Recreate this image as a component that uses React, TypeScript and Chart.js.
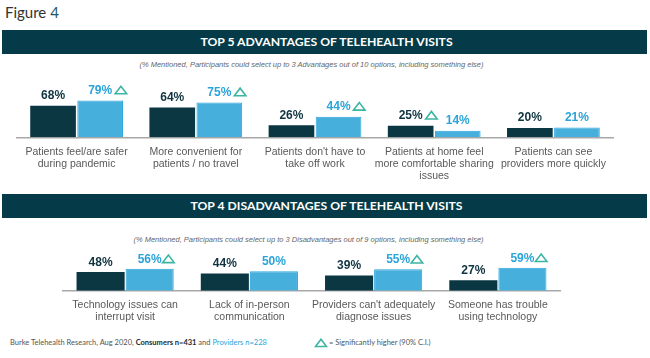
import React, { useEffect, useRef } from "react";
import { Chart, registerables } from "chart.js";

Chart.register(...registerables);

// ---------- DATA ----------
const advCategories: string[][] = [
  ["Patients feel/are safer", "during pandemic"],
  ["More convenient for", "patients / no travel"],
  ["Patients don't have to", "take off work"],
  ["Patients at home feel", "more comfortable sharing", "issues"],
  ["Patients can see", "providers more quickly"],
];
const advConsumers = [68, 64, 26, 25, 20];
const advProviders = [79, 75, 44, 14, 21];
const advConsumersSig = [false, false, false, true, false];
const advProvidersSig = [true, true, true, false, false];

const disCategories: string[][] = [
  ["Technology issues can", "interrupt visit"],
  ["Lack of in-person", "communication"],
  ["Providers can't adequately", "diagnose issues"],
  ["Someone has trouble", "using technology"],
];
const disConsumers = [48, 44, 39, 27];
const disProviders = [56, 50, 55, 59];
const disConsumersSig = [false, false, false, false];
const disProvidersSig = [true, false, true, true];

const seriesNames = ["Consumers", "Providers"];

// ---------- STYLE ----------
const DARK = "#0b3743";
const LIGHT = "#47afdb";
const LIGHT_BORDER = "#2aa6de";
const DARK_TEXT = "#0f3340";
const LIGHT_TEXT = "#2ba4d9";
const TRI = "#3cb5a3";
const HEADER_BG = "#053b48";
const SANS = "'Liberation Sans', Arial, sans-serif";
const CAL = "Lato, 'Open Sans', sans-serif";

function drawTriangle(ctx: CanvasRenderingContext2D, x: number, y: number, w: number, h: number) {
  ctx.beginPath();
  ctx.moveTo(x, y + h / 2);
  ctx.lineTo(x + w / 2, y - h / 2);
  ctx.lineTo(x + w, y + h / 2);
  ctx.closePath();
  ctx.stroke();
}

function makeLabelPlugin(sigs: boolean[][], gap: number, offset: number) {
  return {
    id: "barLabels",
    afterDatasetsDraw(chart: any) {
      const ctx: CanvasRenderingContext2D = chart.ctx;
      chart.data.datasets.forEach((ds: any, di: number) => {
        const meta = chart.getDatasetMeta(di);
        meta.data.forEach((bar: any, i: number) => {
          const text = ds.data[i] + "%";
          ctx.save();
          ctx.font = "bold 12px " + SANS;
          ctx.fillStyle = di === 0 ? DARK_TEXT : LIGHT_TEXT;
          ctx.textAlign = "center";
          ctx.textBaseline = "middle";
          const y = bar.y - offset;
          ctx.fillText(text, bar.x, y);
          if (sigs[di][i]) {
            const w = ctx.measureText(text).width;
            ctx.strokeStyle = TRI;
            ctx.lineWidth = 1.6;
            drawTriangle(ctx, bar.x + w / 2 + gap, y - 0.5, 11.5, 7.5);
          }
          ctx.restore();
        });
      });
    },
  };
}

type BarProps = {
  categories: string[][];
  a: number[];
  b: number[];
  sigs: boolean[][];
  width: number;
  height: number;
  padTop: number;
  padLeft: number;
  padRight: number;
  axisHeight: number;
  catPct: number;
  barPct: number;
  triGap: number;
  labelOffset: number;
  tickPad: number;
};

function BarChart(p: BarProps) {
  const ref = useRef<HTMLCanvasElement>(null);
  useEffect(() => {
    if (!ref.current) return;
    const chart = new Chart(ref.current, {
      type: "bar",
      data: {
        labels: p.categories,
        datasets: [
          {
            label: seriesNames[0],
            data: p.a,
            backgroundColor: DARK,
            borderWidth: 0,
            categoryPercentage: p.catPct,
            barPercentage: p.barPct,
          },
          {
            label: seriesNames[1],
            data: p.b,
            backgroundColor: LIGHT,
            borderColor: LIGHT_BORDER,
            borderWidth: 1,
            categoryPercentage: p.catPct,
            barPercentage: p.barPct,
          },
        ],
      },
      options: {
        animation: false,
        responsive: false,
        layout: { padding: { top: p.padTop, left: p.padLeft, right: p.padRight, bottom: 0 } },
        plugins: { legend: { display: false }, tooltip: { enabled: false } },
        scales: {
          y: { display: false, min: 0, max: 100 },
          x: {
            grid: { display: false, drawTicks: false },
            border: { display: true, color: "#a8a8a8", width: 1.5 },
            ticks: {
              color: "#595959",
              font: { family: SANS, size: 10.5, lineHeight: 1.15 },
              padding: p.tickPad,
              maxRotation: 0,
              autoSkip: false,
            },
            afterFit: (scale: any) => {
              scale.height = p.axisHeight;
            },
          },
        },
      },
      plugins: [makeLabelPlugin(p.sigs, p.triGap, p.labelOffset)],
    } as any);
    return () => chart.destroy();
  }, []);
  return <canvas ref={ref} width={p.width} height={p.height} style={{ display: "block" }} />;
}

function Header({ top, text }: { top: number; text: string }) {
  return (
    <div
      style={{
        position: "absolute",
        left: 2,
        top,
        width: 645,
        height: 24,
        background: HEADER_BG,
        color: "#fff",
        display: "flex",
        alignItems: "center",
        justifyContent: "center",
        fontFamily: CAL,
        fontWeight: 700,
        fontSize: 12.2,
        lineHeight: 1,
        paddingLeft: 4,
        boxSizing: "border-box",
      }}
    >
      {text}
    </div>
  );
}

function Subtitle({ top, center, text }: { top: number; center: number; text: string }) {
  return (
    <div
      style={{
        position: "absolute",
        left: center - 250,
        width: 500,
        top,
        textAlign: "center",
        fontFamily: SANS,
        fontStyle: "italic",
        fontSize: 7.5,
        color: "#666",
        lineHeight: 1,
        whiteSpace: "nowrap",
      }}
    >
      {text}
    </div>
  );
}

export default function App() {
  return (
    <div
      style={{
        position: "fixed",
        left: 0,
        top: 0,
        width: 650,
        height: 358,
        background: "#fff",
        overflow: "hidden",
      }}
    >
      <div
        style={{
          position: "absolute",
          left: 5,
          top: 5,
          fontFamily: CAL,
          fontSize: 15,
          color: "#333",
          lineHeight: 1,
        }}
      >
        Figure <span style={{ color: "#1d5566" }}>4</span>
      </div>

      <Header top={30} text="TOP 5 ADVANTAGES OF TELEHEALTH VISITS" />
      <Subtitle
        top={61}
        center={311.5}
        text="(% Mentioned, Participants could select up to 3 Advantages out of 10 options, including something else)"
      />
      <div style={{ position: "absolute", left: 0, top: 70 }}>
        <BarChart
          categories={advCategories}
          a={advConsumers}
          b={advProviders}
          sigs={[advConsumersSig, advProvidersSig]}
          width={650}
          height={115}
          padTop={20.8}
          padLeft={17}
          padRight={37}
          axisHeight={47.7}
          catPct={0.79}
          barPct={0.97}
          triGap={3}
          labelOffset={10}
          tickPad={9}
        />
      </div>

      <Header top={194} text="TOP 4 DISADVANTAGES OF TELEHEALTH VISITS" />
      <Subtitle
        top={235.5}
        center={308.5}
        text="(% Mentioned, Participants could select up to 3 Disadvantages out of 9 options, including something else)"
      />
      <div style={{ position: "absolute", left: 0, top: 243 }}>
        <BarChart
          categories={disCategories}
          a={disConsumers}
          b={disProviders}
          sigs={[disConsumersSig, disProvidersSig]}
          width={650}
          height={92}
          padTop={8.7}
          padLeft={63}
          padRight={90}
          axisHeight={44.3}
          catPct={0.79}
          barPct={0.98}
          triGap={1}
          labelOffset={9.5}
          tickPad={8}
        />
      </div>

      <div
        style={{
          position: "absolute",
          left: 10,
          top: 339,
          fontFamily: CAL,
          fontSize: 7.5,
          color: "#555",
          lineHeight: 1,
          whiteSpace: "nowrap",
        }}
      >
        Burke Telehealth Research, Aug 2020,{" "}
        <b style={{ color: "#1a2a30" }}>Consumers n=431</b> and{" "}
        <span style={{ color: "#2ba4d9" }}>Providers n=228</span>
      </div>
      <svg
        style={{ position: "absolute", left: 314, top: 338 }}
        width={14}
        height={10}
        viewBox="0 0 14 10"
      >
        <polygon points="1.5,8.5 7,1.2 12.5,8.5" fill="none" stroke={TRI} strokeWidth={1.6} />
      </svg>
      <div
        style={{
          position: "absolute",
          left: 329,
          top: 339,
          fontFamily: CAL,
          fontSize: 7.5,
          color: "#555",
          lineHeight: 1,
          whiteSpace: "nowrap",
        }}
      >
        = Significantly higher (90% C.I.)
      </div>
    </div>
  );
}
